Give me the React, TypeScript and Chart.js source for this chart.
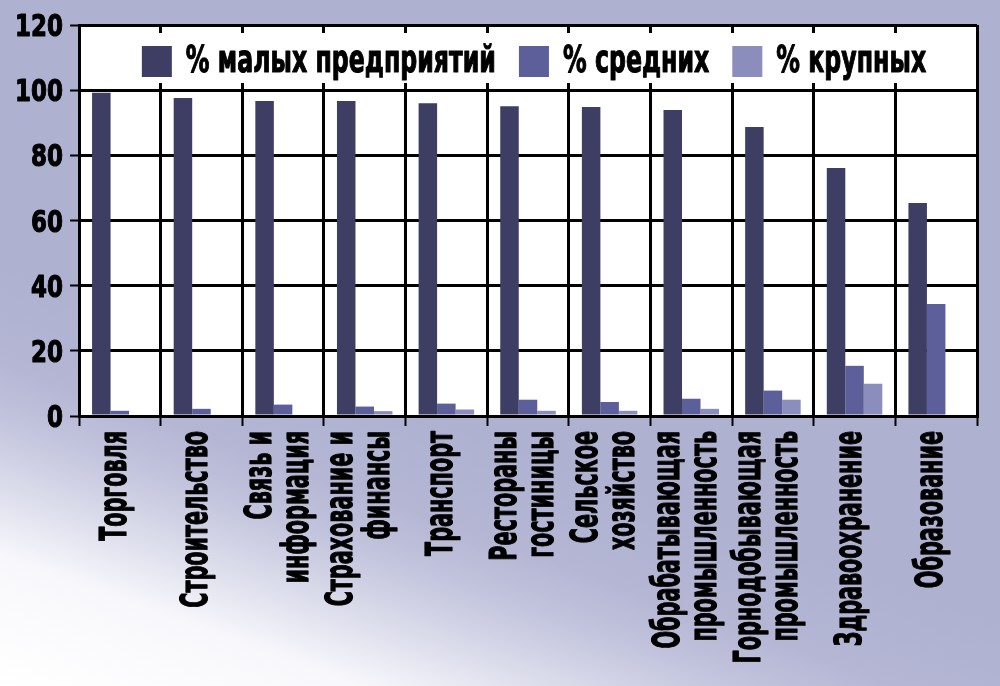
import { useEffect, useRef } from "react";
import { Chart, registerables } from "chart.js";

Chart.register(...registerables);

const categories = [
  "Торговля",
  "Строительство",
  ["Связь и", "информация"],
  ["Страхование и", "финансы"],
  "Транспорт",
  ["Рестораны", "гостиницы"],
  ["Сельское", "хозяйство"],
  ["Обрабатывающая", "промышленность"],
  ["Горнодобывающая", "промышленность"],
  "Здравоохранение",
  "Образование",
];

const smallShare = [99.2, 97.6, 96.7, 96.7, 96.0, 95.1, 94.8, 93.9, 88.7, 76.1, 65.4];
const mediumShare = [1.6, 2.2, 3.5, 2.9, 3.8, 5.0, 4.3, 5.3, 7.8, 15.4, 34.4];
const largeShare = [0, 0, 0, 1.5, 2.0, 1.6, 1.6, 2.2, 5.0, 9.9, 0];

const seriesLabels = ["% малых предприятий", "% средних", "% крупных"];
const seriesColors = ["#3e3e64", "#5d5f9a", "#8b8dbd"];

const yMin = 0;
const yMax = 120;
const yStep = 20;

// the original uses a very condensed bold face; DejaVu squeezed horizontally stands in for it
const FONT = '"DejaVu Sans", sans-serif';
const LABEL_FONT = `bold 37px ${FONT}`;
const LABEL_SQUEEZE = 0.56;
const LEGEND_SQUEEZE = 0.64;
const TICK_FONT = `bold 31px ${FONT}`;
const TICK_SQUEEZE = 0.74;

function squeezed(ctx: CanvasRenderingContext2D, text: string, x: number, y: number, sx: number, rotate: boolean, align: CanvasTextAlign, dy = 0) {
  ctx.save();
  ctx.translate(x, y);
  if (rotate) ctx.rotate(-Math.PI / 2);
  ctx.scale(sx, 1);
  ctx.textAlign = align;
  ctx.textBaseline = "alphabetic";
  ctx.fillStyle = "#000000";
  ctx.strokeStyle = "#000000";
  ctx.lineWidth = 1.2;
  ctx.lineJoin = "round";
  ctx.fillText(text, 0, dy);
  ctx.strokeText(text, 0, dy);
  ctx.restore();
}

// page background: blue-grey with a white glow in the lower left, white plot area
const backgroundPlugin = {
  id: "pageBackground",
  beforeDraw(chart: Chart) {
    const { ctx, width, height, chartArea } = chart;
    ctx.save();
    const nx = 0.339;
    const ny = -0.941;
    const x0 = 0;
    const y0 = 686;
    const len = 400;
    const g = ctx.createLinearGradient(x0, y0, x0 + nx * len, y0 + ny * len);
    g.addColorStop(0, "#ffffff");
    g.addColorStop(0.3, "#f8f8fc");
    g.addColorStop(0.54, "#d0d1e4");
    g.addColorStop(0.63, "#c2c4dd");
    g.addColorStop(0.76, "#b4b6d4");
    g.addColorStop(1, "#afb1d1");
    ctx.fillStyle = g;
    ctx.fillRect(0, 0, width, height);
    ctx.fillStyle = "#ffffff";
    ctx.fillRect(chartArea.left, chartArea.top, chartArea.right - chartArea.left, chartArea.bottom - chartArea.top);
    ctx.restore();
  },
};

// tick labels in the squeezed face, placed from the chart's own scales
const tickLabelPlugin = {
  id: "squeezedTicks",
  afterDraw(chart: Chart) {
    const { ctx } = chart;
    const xs = chart.scales.x;
    const ys = chart.scales.y;

    ctx.save();
    ctx.font = TICK_FONT;
    ys.ticks.forEach((t, i) => {
      const py = ys.getPixelForTick(i);
      squeezed(ctx, String(t.value), ys.right - 16, py + 11, TICK_SQUEEZE, false, "right");
    });

    ctx.font = LABEL_FONT;
    const lineH = 37;
    const labels = chart.data.labels as (string | string[])[];
    labels.forEach((lab, i) => {
      const px = xs.getPixelForTick(i);
      const lines = Array.isArray(lab) ? lab : [lab];
      lines.forEach((line, j) => {
        const off = 6 + (j - (lines.length - 1) / 2) * lineH;
        squeezed(ctx, line, px, xs.top + 15, LABEL_SQUEEZE, true, "right", off);
      });
    });
    ctx.restore();
  },
};

// legend drawn inside the plot area on a white strip
const insideLegendPlugin = {
  id: "insideLegend",
  afterDatasetsDraw(chart: Chart) {
    const { ctx, chartArea } = chart;
    const ds = chart.data.datasets;
    ctx.save();
    ctx.fillStyle = "#ffffff";
    ctx.fillRect(chartArea.left + 6, chartArea.top + 8, chartArea.right - chartArea.left - 12, 50);

    ctx.font = LABEL_FONT;
    const box = 30;
    const gap = 14;
    const itemGap = 23;
    const widths = ds.map((d) => ctx.measureText(String(d.label)).width * LEGEND_SQUEEZE);
    const total = widths.reduce((a, w) => a + box + gap + w, 0) + itemGap * (ds.length - 1);
    let x = (chartArea.left + chartArea.right) / 2 + 6 - total / 2;
    const boxTop = chartArea.top + 21;
    ds.forEach((d, i) => {
      ctx.fillStyle = String(d.backgroundColor);
      ctx.fillRect(x, boxTop, box, box + 1);
      x += box + gap;
      squeezed(ctx, String(d.label), x, chartArea.top + 47, LEGEND_SQUEEZE, false, "left");
      x += widths[i] + itemGap;
    });
    ctx.restore();
  },
};

export default function App() {
  const canvasRef = useRef<HTMLCanvasElement>(null);
  const chartRef = useRef<Chart | null>(null);

  useEffect(() => {
    document.body.style.margin = "0";
    if (!canvasRef.current) return;
    if (chartRef.current) chartRef.current.destroy();

    chartRef.current = new Chart(canvasRef.current, {
      type: "bar",
      data: {
        labels: categories,
        datasets: [smallShare, mediumShare, largeShare].map((values, i) => ({
          label: seriesLabels[i],
          data: values,
          backgroundColor: seriesColors[i],
          borderWidth: 0,
          categoryPercentage: 0.68,
          barPercentage: 1.0,
        })),
      },
      options: {
        responsive: true,
        maintainAspectRatio: false,
        animation: false,
        layout: { padding: { top: 25, right: 23, left: 0, bottom: 0 } },
        plugins: {
          legend: { display: false },
          tooltip: { enabled: false },
        },
        scales: {
          x: {
            afterFit: (s: any) => {
              s.height = 270;
            },
            grid: {
              display: true,
              offset: true,
              color: "#000000",
              lineWidth: 3,
              tickLength: 10,
              tickColor: "#000000",
              tickWidth: 2,
            },
            border: { display: true, color: "#000000", width: 3 },
            ticks: { display: false, autoSkip: false },
          },
          y: {
            min: yMin,
            max: yMax,
            afterFit: (s: any) => {
              s.width = 79;
            },
            grid: {
              color: "#000000",
              lineWidth: 3,
              tickLength: 9,
              tickColor: "#000000",
              tickWidth: 2,
            },
            border: { display: true, color: "#000000", width: 3 },
            ticks: { display: false, stepSize: yStep },
          },
        },
      },
      plugins: [backgroundPlugin, insideLegendPlugin, tickLabelPlugin],
    });

    return () => {
      if (chartRef.current) {
        chartRef.current.destroy();
        chartRef.current = null;
      }
    };
  }, []);

  return (
    <div style={{ width: 1000, height: 686, position: "relative" }}>
      <canvas ref={canvasRef} />
    </div>
  );
}
